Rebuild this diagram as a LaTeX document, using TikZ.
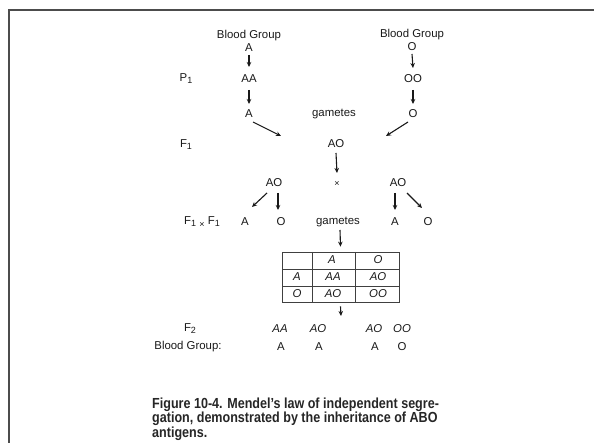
\documentclass[tikz,border=0pt]{standalone}
\usepackage{fontspec}
\setmainfont{Liberation Sans}
\newfontfamily\capfont[FakeStretch=0.86]{Liberation Sans Bold}
\usetikzlibrary{arrows.meta,calc}
\newcommand\mysub[1]{\raisebox{-0.35ex}{\fontsize{9}{9}\selectfont #1}}
\begin{document}
\begin{tikzpicture}[x=1pt,y=-1pt,
  every node/.style={font=\fontsize{11.4}{12}\selectfont, text=black!90, inner sep=1pt},
  it/.style={font=\fontsize{11.4}{12}\selectfont\itshape},
  arr/.style={-{Stealth[length=5pt,width=4.5pt]}, line width=1.1pt, draw=black!90},
  grid/.style={line width=0.8pt, draw=black!75},
  frame/.style={line width=2pt, draw=black!70}]
\useasboundingbox[fill=white] (0,0) rectangle (594,443);
\draw[frame] (9,443) -- (9,10) -- (594,10);

% parents
\node (bgA) at (249,36) {Blood Group};
\node (gA)  at (249,48) {A};
\node (AA)  at (249,79) {AA};
\node (gamA) at (249,114) {A};
\node (bgO) at (412,35) {Blood Group};
\node (gO)  at (412,47) {O};
\node (OO)  at (413,79) {OO};
\node (gamO) at (413,114) {O};
\node (P1) at (186,79) {P\mysub{1}};
\node (gam1) at (334,114) {gametes};
\draw[arr] ($(gA)+(0,7)$) -- ($(AA)+(0,-12)$);
\draw[arr] ($(AA)+(0,11)$) -- ($(gamA)+(0,-10)$);
\draw[arr] ($(gO)+(0,7)$) -- ($(OO)+(0,-11)$);
\draw[arr] ($(OO)+(0,11)$) -- ($(gamO)+(0,-10)$);
\coordinate (jA) at (281,136);
\coordinate (jO) at (386,136);
\draw[arr] ($(gamA)+(4,8)$) -- (jA);
\draw[arr] ($(gamO)+(-5,8)$) -- (jO);

% F1
\node (F1) at (186,145) {F\mysub{1}};
\node (AOf) at (336,144) {AO};
\node (cross) at (337,184) {\fontsize{9}{9}\selectfont ×};
\draw[arr] ($(AOf)+(0,9)$) -- ($(cross)+(0,-11)$);
\node (AOl) at (274,183) {AO};
\node (AOr) at (398,183) {AO};

% F1 x F1 gametes
\node (F1F1) at (202,222) {F\mysub{1} \raisebox{-0.4ex}{\fontsize{9}{9}\selectfont ×} F\mysub{1}};
\node (FA)  at (245,222) {A};
\node (FO)  at (281,222) {O};
\node (gam2) at (338,222) {gametes};
\node (FA2) at (395,222) {A};
\node (FO2) at (428,222) {O};
\draw[arr] ($(AOl)+(-7,10)$) -- ($(FA)+(7,-15)$);
\draw[arr] ($(AOl)+(4,10)$) -- ($(FO)+(-3,-12)$);
\draw[arr] ($(AOr)+(-3,10)$) -- ($(FA2)+(0,-12)$);
\draw[arr] ($(AOr)+(9,10)$) -- ($(FO2)+(-6,-14)$);

% Punnett square
\node[grid, draw, minimum width=117pt, minimum height=50pt, inner sep=0pt] (tbl) at (340.5,277) {};
\draw[grid] (312,252) -- (312,302);
\draw[grid] (355,252) -- (355,302);
\draw[grid] (282,269) -- (399,269);
\draw[grid] (282,286) -- (399,286);
\draw[arr] ($(gam2)+(2,8)$) -- ($(tbl.north)+(0,-5)$);
\node[it] (hA) at (332,260) {A};
\node[it] (hO) at (378,260) {O};
\node[it] (rA) at (297,277) {A};
\node[it] (cAA) at (333,277) {AA};
\node[it] (cAO1) at (378,277) {AO};
\node[it] (rO) at (297,294) {O};
\node[it] (cAO2) at (333,294) {AO};
\node[it] (cOO) at (378,294) {OO};
\coordinate (f2arr) at (341,316);
\draw[arr] ($(tbl.south)+(0,4)$) -- (f2arr);

% F2
\node (F2) at (190,329) {F\mysub{2}};
\node[it] (g1) at (280,329) {AA};
\node[it] (g2) at (318,329) {AO};
\node[it] (g3) at (374,329) {AO};
\node[it] (g4) at (402,329) {OO};
\node (BG) at (188,347) {Blood Group:};
\node (b1) at (281,347) {A};
\node (b2) at (319,347) {A};
\node (b3) at (375,347) {A};
\node (b4) at (402,347) {O};

% caption
\node[anchor=north west, align=left, inner sep=0pt, text=black!85,
  font=\capfont\fontsize{14.6}{14.2}\selectfont] (cap) at (152,398)
  {Figure 10-4. Mendel’s law of independent segre-\\gation, demonstrated by the inheritance of ABO\\antigens.};
\end{tikzpicture}
\end{document}
